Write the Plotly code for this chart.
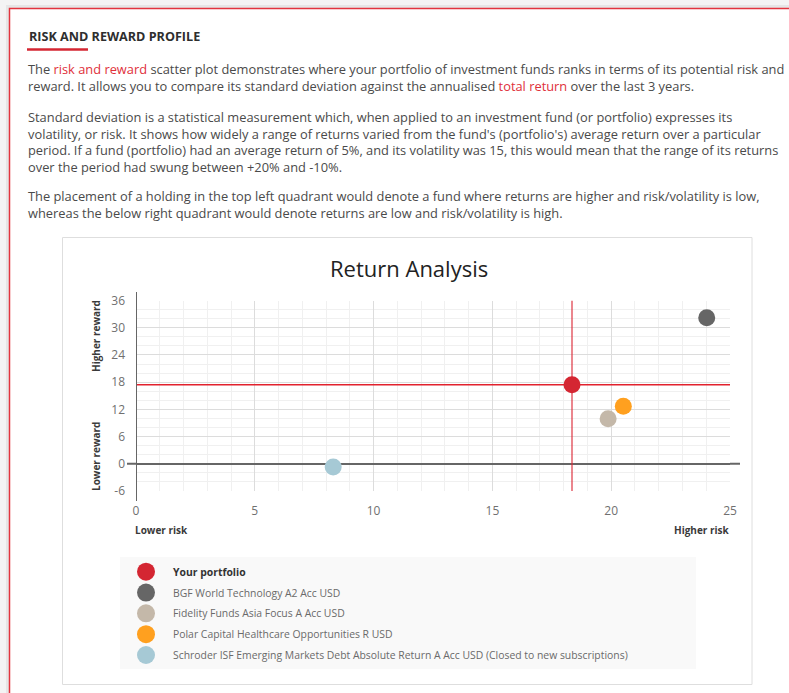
import plotly.graph_objects as go

W, H = 789, 693
FONT = "Open Sans"

# ---------------- data ----------------
fund_names = [
    "Your portfolio",
    "BGF World Technology A2 Acc USD",
    "Fidelity Funds Asia Focus A Acc USD",
    "Polar Capital Healthcare Opportunities R USD",
    "Schroder ISF Emerging Markets Debt Absolute Return A Acc USD (Closed to new subscriptions)",
]
risk = [18.35, 24.02, 19.87, 20.51, 8.30]          # standard deviation (x)
reward = [17.45, 32.2, 9.95, 12.67, -0.73]         # annualised total return (y)
colors = ["#d42632", "#666666", "#c4b8a9", "#ffa01f", "#a6c9d5"]

x_ticks = [0, 5, 10, 15, 20, 25]
y_ticks = [-6, 0, 6, 12, 18, 24, 30, 36]

def fx(p):
    return p / W

def fy(p):
    return 1 - p / H

fig = go.Figure()

# main scatter
for name, xv, yv, c in zip(fund_names, risk, reward, colors):
    fig.add_trace(go.Scatter(
        x=[xv], y=[yv], mode="markers", name=name, showlegend=False,
        marker=dict(size=17, color=c, line=dict(width=0)),
        xaxis="x", yaxis="y", cliponaxis=False,
    ))

# legend markers
fig.add_trace(go.Scatter(
    x=[26] * len(fund_names), y=fund_names, mode="markers", showlegend=False,
    marker=dict(size=18, color=colors, line=dict(width=0)),
    xaxis="x2", yaxis="y2", hoverinfo="skip",
))

shapes = []
# page shadow and box
shapes.append(dict(type="rect", xref="paper", yref="paper", x0=fx(6), x1=fx(820), y0=fy(5), y1=fy(720),
                   fillcolor="#e6e6e6", line=dict(width=0), layer="below"))
shapes.append(dict(type="rect", xref="paper", yref="paper", x0=fx(9.5), x1=fx(820), y0=fy(8.5), y1=fy(720),
                   fillcolor="#ffffff", line=dict(color="#e2343f", width=1.5), layer="below"))
# heading underline
shapes.append(dict(type="line", xref="paper", yref="paper", x0=fx(27), x1=fx(88), y0=fy(49.5), y1=fy(49.5),
                   line=dict(color="#d42632", width=2.5)))
# chart container
shapes.append(dict(type="rect", xref="paper", yref="paper", x0=fx(62.5), x1=fx(752), y0=fy(237.5), y1=fy(684.5),
                   fillcolor="rgba(0,0,0,0)", line=dict(color="#dedede", width=1), layer="below"))
# legend background
shapes.append(dict(type="rect", xref="paper", yref="paper", x0=fx(120), x1=fx(696), y0=fy(557), y1=fy(669),
                   fillcolor="#f9f9f9", line=dict(width=0), layer="below"))
# axis line extensions
shapes.append(dict(type="line", xref="paper", yref="y", x0=fx(127), x1=fx(136), y0=0, y1=0,
                   line=dict(color="#666666", width=2)))
shapes.append(dict(type="line", xref="paper", yref="y", x0=fx(730), x1=fx(740), y0=0, y1=0,
                   line=dict(color="#666666", width=2)))
shapes.append(dict(type="line", xref="x", yref="paper", x0=0, x1=0, y0=fy(292), y1=fy(501),
                   line=dict(color="#666666", width=2)))
# portfolio reference lines
shapes.append(dict(type="line", xref="x", yref="y", x0=0, x1=25, y0=reward[0], y1=reward[0],
                   line=dict(color="#e2212d", width=1.5), layer="between"))
shapes.append(dict(type="line", xref="x", yref="y", x0=risk[0], x1=risk[0], y0=-6, y1=36,
                   line=dict(color="rgba(220,40,55,0.75)", width=1.5), layer="between"))

RED = "#e0303a"
BODY = "#4a4a4a"

def red(t):
    return f"<span style='color:{RED}'>{t}</span>"

paragraphs = [
    (78, [
        "The " + red("risk and reward") + " scatter plot demonstrates where your portfolio of investment funds ranks in terms of its potential risk and",
        "reward. It allows you to compare its standard deviation against the annualised " + red("total return") + " over the last 3 years.",
    ]),
    (142, [
        "Standard deviation is a statistical measurement which, when applied to an investment fund (or portfolio) expresses its",
        "volatility, or risk. It shows how widely a range of returns varied from the fund's (portfolio's) average return over a particular",
        "period. If a fund (portfolio) had an average return of 5%, and its volatility was 15, this would mean that the range of its returns",
        "over the period had swung between +20% and -10%.",
    ]),
    (205, [
        "The placement of a holding in the top left quadrant would denote a fund where returns are higher and risk/volatility is low,",
        "whereas the below right quadrant would denote returns are low and risk/volatility is high.",
    ]),
]

ann = []
ann.append(dict(text="<b>RISK AND REWARD PROFILE</b>", x=fx(27), y=fy(36), xref="paper", yref="paper",
                xanchor="left", yanchor="middle", showarrow=False,
                font=dict(family=FONT, size=12.6, color="#2e2e2e")))
for yy, lines in paragraphs:
    ann.append(dict(text="<br>".join(lines), x=fx(27), y=fy(yy), xref="paper", yref="paper",
                    xanchor="left", yanchor="middle", align="left", showarrow=False, borderpad=0,
                    font=dict(family=FONT, size=12.85, color=BODY)))
ann.append(dict(text="Return Analysis", x=fx(409), y=fy(268), xref="paper", yref="paper",
                xanchor="center", yanchor="middle", showarrow=False,
                font=dict(family=FONT, size=22, color="#222222")))
ann.append(dict(text="<b>Higher reward</b>", x=fx(96), y=fy(336), xref="paper", yref="paper", textangle=-90,
                xanchor="center", yanchor="middle", showarrow=False,
                font=dict(family=FONT, size=10, color="#3a3a3a")))
ann.append(dict(text="<b>Lower reward</b>", x=fx(96), y=fy(457), xref="paper", yref="paper", textangle=-90,
                xanchor="center", yanchor="middle", showarrow=False,
                font=dict(family=FONT, size=10, color="#3a3a3a")))
ann.append(dict(text="<b>Lower risk</b>", x=fx(133), y=fy(530), xref="paper", yref="paper",
                xanchor="left", yanchor="middle", showarrow=False,
                font=dict(family=FONT, size=10, color="#3a3a3a")))
ann.append(dict(text="<b>Higher risk</b>", x=fx(732), y=fy(530), xref="paper", yref="paper",
                xanchor="right", yanchor="middle", showarrow=False,
                font=dict(family=FONT, size=10, color="#3a3a3a")))
for i, name in enumerate(fund_names):
    txt = f"<b>{name}</b>" if i == 0 else name
    ann.append(dict(text=txt, x=fx(171), y=name, xref="paper", yref="y2",
                    xanchor="left", yanchor="middle", showarrow=False,
                    font=dict(family=FONT, size=10.4, color="#333333" if i == 0 else "#6a6a6a")))

fig.update_layout(
    width=W, height=H, autosize=False,
    margin=dict(l=0, r=0, t=0, b=0),
    paper_bgcolor="#f4f4f4", plot_bgcolor="rgba(0,0,0,0)",
    showlegend=False,
    shapes=shapes, annotations=ann,
    xaxis=dict(domain=[fx(136), fx(730)], range=[0, 25], tickvals=x_ticks, ticktext=[str(v) for v in x_ticks],
               showgrid=True, gridcolor="#dcdcdc", gridwidth=1,
               minor=dict(dtick=1, tick0=0, showgrid=True, gridcolor="#f0f0f0", gridwidth=1),
               zeroline=False, showline=False, ticks="", ticklabelstandoff=11,
               tickfont=dict(family=FONT, size=12, color="#707070"), anchor="y", fixedrange=True, automargin=False),
    yaxis=dict(domain=[fy(491), fy(300.5)], range=[-6, 36], tickvals=y_ticks, ticktext=[str(v) for v in y_ticks],
               showgrid=True, gridcolor="#dcdcdc", gridwidth=1,
               minor=dict(dtick=2, tick0=0, showgrid=True, gridcolor="#f0f0f0", gridwidth=1),
               zeroline=True, zerolinecolor="#666666", zerolinewidth=2,
               showline=False, ticks="", ticklabelstandoff=10,
               tickfont=dict(family=FONT, size=12, color="#707070"), anchor="x", fixedrange=True, automargin=False),
    xaxis2=dict(domain=[fx(120), fx(696)], range=[0, 576], visible=False, anchor="y2", fixedrange=True),
    yaxis2=dict(domain=[fy(669), fy(557)], range=[4.672, -0.706], visible=False, anchor="x2",
                type="category", categoryorder="array", categoryarray=fund_names, fixedrange=True),
)

fig.write_html("out.html", config={"displayModeBar": False},
               post_script="document.body.style.margin='0px';document.body.style.overflow='hidden';")
